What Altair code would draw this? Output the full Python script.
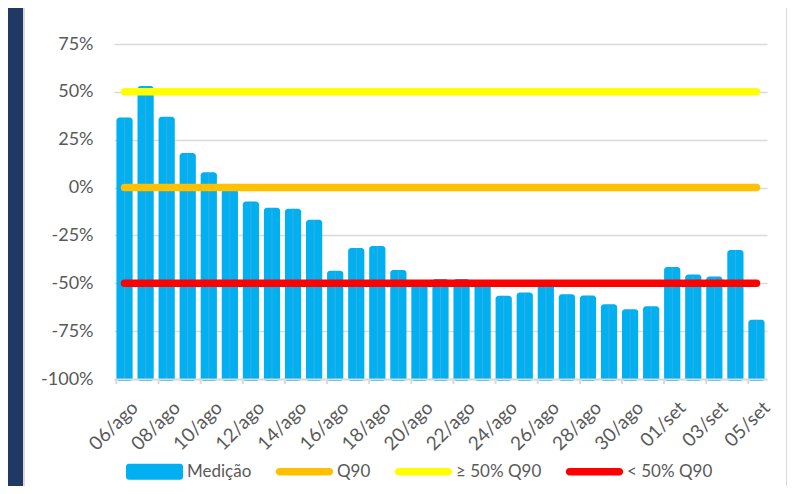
import altair as alt
import pandas as pd

# ---------------- data ----------------
dates = ["06/ago", "07/ago", "08/ago", "09/ago", "10/ago", "11/ago", "12/ago", "13/ago",
         "14/ago", "15/ago", "16/ago", "17/ago", "18/ago", "19/ago", "20/ago", "21/ago",
         "22/ago", "23/ago", "24/ago", "25/ago", "26/ago", "27/ago", "28/ago", "29/ago",
         "30/ago", "31/ago", "01/set", "02/set", "03/set", "04/set", "05/set"]
medicao = [36.6, 53.0, 37.0, 18.0, 8.0, -1.0, -7.3, -10.6, -11.0, -16.8, -43.5, -31.6,
           -30.5, -43.0, -50.5, -47.8, -47.8, -50.5, -56.5, -54.8, -50.0, -55.7, -56.4,
           -61.0, -63.5, -62.0, -41.5, -45.4, -46.4, -32.6, -69.0]
label_dates = dates[::2]
y_ticks = [-100, -75, -50, -25, 0, 25, 50, 75]

series_names = ["Medição", "Q90", "≥ 50% Q90", "< 50% Q90"]
series_colors = ["#00B0F0", "#FFC000", "#FFFF00", "#FF0000"]
ref_levels = [("≥ 50% Q90", 50.0, "#FFFF00"), ("Q90", 0.0, "#FFC000"),
              ("< 50% Q90", -50.0, "#FF0000")]

# ---------------- tables ----------------
bars_df = pd.DataFrame({"date": dates, "value": medicao})
ticks_df = pd.DataFrame({"date": label_dates})
legend_df = pd.DataFrame({"series": series_names})

FONT = "Lato"
TXT = "#595959"
GRID = "#D9D9D9"
NAVY = "#203864"

W, H = 653, 335
PAD_L, PAD_T = 106, 36
TOTAL_W, TOTAL_H = 779, 478

x_scale = alt.Scale(domain=dates, paddingInner=0.23, paddingOuter=0.115)
y_scale = alt.Scale(domain=[-100, 75], nice=False, zero=False)

color_scale = alt.Scale(domain=series_names, range=series_colors)

bar_path = ("M-0.9,-0.28 L0.9,-0.28 A0.1,0.1 0 0 1 1,-0.18 L1,0.18 A0.1,0.1 0 0 1 0.9,0.28 "
            "L-0.9,0.28 A0.1,0.1 0 0 1 -1,0.18 L-1,-0.18 A0.1,0.1 0 0 1 -0.9,-0.28 Z")
line_path = ("M-0.877,-0.13 L0.877,-0.13 A0.13,0.13 0 0 1 0.877,0.13 "
             "L-0.877,0.13 A0.13,0.13 0 0 1 -0.877,-0.13 Z")
shape_scale = alt.Scale(domain=series_names, range=[bar_path, line_path, line_path, line_path])

x_axis = alt.Axis(values=label_dates, labelAngle=-45, ticks=False, domainColor=GRID,
                  domainWidth=2, labelPadding=19, labelOffset=4, labelFont=FONT,
                  labelFontSize=19, labelColor=TXT, title=None, grid=False, zindex=1)
y_axis = alt.Axis(values=y_ticks, labelExpr="datum.value + '%'", grid=True, gridColor=GRID,
                  gridWidth=1.5, domain=False, ticks=False, labelPadding=21, labelFont=FONT,
                  labelFontSize=18, labelColor=TXT, title=None)

# ---------------- frame (decoration) ----------------
frame_data = alt.Data(values=[{}])
navy = alt.Chart(frame_data).mark_rect(color=NAVY).encode(
    x=alt.value(-PAD_L), x2=alt.value(-PAD_L + 15),
    y=alt.value(-PAD_T), y2=alt.value(TOTAL_H - PAD_T))
left_border = alt.Chart(frame_data).mark_rect(color=GRID).encode(
    x=alt.value(-PAD_L + 15), x2=alt.value(-PAD_L + 17),
    y=alt.value(-PAD_T), y2=alt.value(TOTAL_H - PAD_T))
right_border = alt.Chart(frame_data).mark_rect(color=GRID).encode(
    x=alt.value(TOTAL_W - PAD_L - 1), x2=alt.value(TOTAL_W - PAD_L),
    y=alt.value(-PAD_T), y2=alt.value(TOTAL_H - PAD_T))

# ---------------- marks ----------------
bars = alt.Chart(bars_df).mark_bar(color="#00B0F0", cornerRadius=3).encode(
    x=alt.X("date:N", sort=dates, scale=x_scale, axis=x_axis),
    y=alt.Y("value:Q", scale=y_scale, axis=y_axis),
    y2=alt.datum(-101),
)

center_lines = alt.Chart(bars_df).mark_rule(color="#5FA6D6", strokeWidth=1, opacity=0.7).encode(
    x=alt.X("date:N", sort=dates),
    y=alt.Y("value:Q"),
    y2=alt.datum(-100),
)

ticks = alt.Chart(ticks_df).mark_rule(color=GRID, strokeWidth=2).encode(
    x=alt.X("date:N", sort=dates, bandPosition=0),
    y=alt.value(H), y2=alt.value(H + 5),
)

line_layers = []
for name, level, col in ref_levels:
    df = pd.DataFrame({"date": dates, "value": [level] * len(dates)})
    line_layers.append(
        alt.Chart(df).mark_line(strokeWidth=7.5, strokeCap="round", color=col).encode(
            x=alt.X("date:N", sort=dates),
            y=alt.Y("value:Q"),
        )
    )

leg = alt.Legend(orient="none", legendX=12, legendY=399, direction="horizontal", title=None,
                 symbolSize=3249, symbolStrokeWidth=0, symbolOpacity=1, labelFont=FONT,
                 labelFontSize=17, labelColor=TXT, columnPadding=23, labelOffset=4)
legend_layer = alt.Chart(legend_df).mark_point(filled=True, opacity=1).encode(
    color=alt.Color("series:N", scale=color_scale, legend=leg),
    shape=alt.Shape("series:N", scale=shape_scale, legend=leg),
).transform_filter("false")

chart = alt.layer(navy, left_border, right_border, bars, center_lines, ticks, *line_layers,
                  legend_layer).properties(
    width=W, height=H,
    autosize=alt.AutoSizeParams(type="none"),
    padding={"left": PAD_L, "top": PAD_T, "right": TOTAL_W - PAD_L - W,
             "bottom": TOTAL_H - PAD_T - H},
    background="white",
).configure_view(stroke=None)

chart.save("out.html", embed_options={"renderer": "svg", "actions": False})
